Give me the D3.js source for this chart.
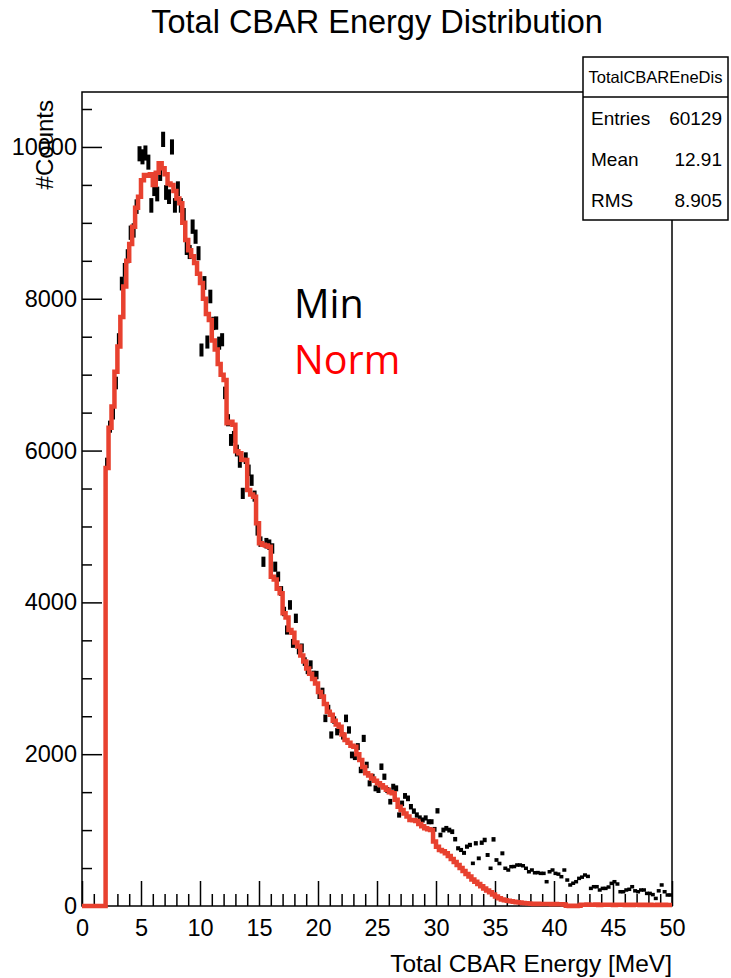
<!DOCTYPE html>
<html><head><meta charset="utf-8">
<script src="https://cdn.jsdelivr.net/npm/d3@7"></script>
<style>body{margin:0;background:#fff}</style>
</head><body>
<svg id="c" width="731" height="978"></svg>
<script>
// ---------------- DATA ----------------
const binStart = 0, binWidth = 0.25;   // 200 bins over 0..50 MeV
const xDomain = [0, 50];
const yDomain = [0, 10724];
// red "Norm" histogram (counts per bin)
const normCounts = [
  0,0,0,0,0,0,0,0,
  5770,6300,6580,7040,7370,7760,8160,8500,8720,8950,9200,9345,9560,9630,9620,9640,
  9500,9660,9785,9720,9640,9520,9500,9420,9320,9257,9000,8775,8640,8560,8470,8330,
  8208,8000,7800,7720,7450,7330,7140,7000,6930,6360,6380,6340,5990,5964,5880,5876,
  5481,5420,5393,5042,4779,4760,4750,4734,4339,4300,4180,4120,3856,3800,3636,3600,
  3470,3420,3300,3220,3130,3060,2990,2930,2820,2760,2660,2560,2520,2440,2390,2362,
  2260,2187,2150,2110,2099,2000,1924,1830,1748,1720,1680,1650,1616,1590,1560,1530,
  1500,1484,1400,1308,1265,1220,1180,1133,1130,1120,1080,1050,1023,1010,1001,850,
  780,738,720,694,660,620,580,540,500,460,420,390,350,320,290,260,
  230,205,180,150,125,101,85,75,70,62,56,50,45,40,36,33,
  30,28,30,26,28,25,27,24,25,22,24,20,2,0,3,0,
  2,18,16,20,15,17,19,14,16,18,15,17,14,16,18,15,
  13,16,14,17,15,13,16,14,15,12,14,16,13,15,14,12
];
// black "Min" points (counts per bin)
const minCounts = [
  0,0,0,0,0,0,0,0,
  5830,6315,6490,6890,7460,8200,8380,8560,8870,8900,9214,9910,9870,9920,9800,9230,
  9450,9380,9650,10100,9400,9345,10000,9230,9450,9230,9100,8670,8616,8950,8818,8600,
  7325,8208,7430,8030,7675,7680,7415,7460,6760,6400,6140,6180,6000,5850,5436,5900,
  5740,5610,5400,4950,4800,4535,4780,4760,4710,4470,4340,4150,3880,3636,3966,3460,
  3790,3373,3400,3220,3110,3180,3045,3043,2780,2823,2472,2600,2253,2450,2296,2330,
  2240,2472,2319,1990,1967,2100,1792,2208,1858,1616,1700,1550,1528,1835,1703,1528,
  1374,1571,1550,1199,1352,1450,1418,1308,1250,1199,1160,1133,1160,1110,1110,1010,
  1254,935,1001,1023,1000,979,880,760,738,700,782,804,562,826,628,834,
  870,672,497,878,606,560,694,497,474,518,520,540,540,530,497,451,
  474,438,440,430,430,320,451,474,430,420,386,474,342,277,300,320,
  364,380,408,390,232,254,254,211,232,232,250,298,320,290,188,188,
  211,220,254,200,188,211,211,166,166,150,100,200,277,188,145,145
];
const xMajorTicks = [0,5,10,15,20,25,30,35,40,45,50];
const yMajorTicks = [0,2000,4000,6000,8000,10000];
const chartTitle = "Total CBAR Energy Distribution";
const xTitle = "Total CBAR Energy [MeV]";
const yTitle = "#Counts";
const statsTitle = "TotalCBAREneDis";
const statsLabels = ["Entries","Mean","RMS"];
const statsValues = ["60129","12.91","8.905"];
const legendLabels = ["Min","Norm"];
const legendColors = ["#000000","#ff0000"];

// ---------------- LAYOUT ----------------
const L = 82, R = 672, T = 92, B = 906;
const FONT = "'Liberation Sans', Arial, Helvetica, sans-serif";
const svg = d3.select('#c');
const x = d3.scaleLinear().domain(xDomain).range([L, R]);
const y = d3.scaleLinear().domain(yDomain).range([B, T]);

// frame
svg.append('rect').attr('x', L).attr('y', T).attr('width', R - L).attr('height', B - T)
  .attr('fill', 'none').attr('stroke', '#000').attr('stroke-width', 1.5);

// y axis major/minor (ticks inward)
const yMinor = d3.range(0, yDomain[1], 500).filter(v => v % 2000 !== 0);
const gyMinor = svg.append('g').attr('transform', `translate(${L},0)`)
  .call(d3.axisLeft(y).tickValues(yMinor).tickSize(-10).tickFormat(''));
const gy = svg.append('g').attr('transform', `translate(${L},0)`)
  .call(d3.axisLeft(y).tickValues(yMajorTicks).tickSize(-20).tickPadding(5).tickFormat(d3.format('d')));
// x axis major/minor
const xMinor = d3.range(0, 51, 1).filter(v => v % 5 !== 0);
const gxMinor = svg.append('g').attr('transform', `translate(0,${B})`)
  .call(d3.axisBottom(x).tickValues(xMinor).tickSize(-12).tickFormat(''));
const gx = svg.append('g').attr('transform', `translate(0,${B})`)
  .call(d3.axisBottom(x).tickValues(xMajorTicks).tickSize(-25).tickPadding(13).tickFormat(d3.format('d')));
[gy, gyMinor, gx, gxMinor].forEach(g => {
  g.select('.domain').remove();
  g.selectAll('line').attr('stroke', '#000').attr('stroke-width', 1.5);
  g.attr('font-family', FONT).attr('font-size', 23.5);
  g.selectAll('text').attr('fill', '#000');
});

// black points (Min)
const pts = minCounts.map((v, i) => ({e: binStart + (i + 0.5) * binWidth, v})).filter(d => d.v > 0);
const errH = d => Math.max(3.5, y(d.v - Math.sqrt(d.v)) - y(d.v + Math.sqrt(d.v)));
svg.append('g').selectAll('rect').data(pts).join('rect')
  .attr('x', d => x(d.e) - 2)
  .attr('width', 4)
  .attr('y', d => y(d.v) - errH(d) / 2)
  .attr('height', errH)
  .attr('fill', '#000');

// red histogram (Norm)
const steps = normCounts.map((v, i) => [binStart + i * binWidth, v]);
steps.push([binStart + normCounts.length * binWidth, normCounts[normCounts.length - 1]]);
svg.append('path').datum(steps)
  .attr('d', d3.line().x(d => x(d[0])).y(d => y(d[1])).curve(d3.curveStepAfter))
  .attr('fill', 'none').attr('stroke', '#e8412f').attr('stroke-width', 4.5)
  .attr('stroke-linejoin', 'miter');

// titles
svg.append('text').attr('x', 377).attr('y', 33).attr('text-anchor', 'middle')
  .attr('font-family', FONT).attr('font-size', 32.5).text(chartTitle);
svg.append('text').attr('x', R).attr('y', 972).attr('text-anchor', 'end')
  .attr('font-family', FONT).attr('font-size', 24.5).text(xTitle);
svg.append('text').attr('transform', `translate(53,100) rotate(-90)`).attr('text-anchor', 'end')
  .attr('font-family', FONT).attr('font-size', 24).text(yTitle);

// legend text
legendLabels.forEach((t, i) => {
  svg.append('text').attr('x', 294).attr('y', 318 + i * 56)
    .attr('font-family', "'Open Sans', 'Noto Sans', sans-serif").attr('font-size', 39.5)
    .attr('fill', legendColors[i]).text(t);
});

// stats box
const sb = {x0: 583, x1: 728, y0: 57, yh: 97, y1: 220};
svg.append('rect').attr('x', sb.x0).attr('y', sb.y0).attr('width', sb.x1 - sb.x0).attr('height', sb.y1 - sb.y0)
  .attr('fill', '#fff').attr('stroke', '#000').attr('stroke-width', 1.5);
svg.append('line').attr('x1', sb.x0).attr('x2', sb.x1).attr('y1', sb.yh).attr('y2', sb.yh)
  .attr('stroke', '#000').attr('stroke-width', 1.5);
svg.append('text').attr('x', (sb.x0 + sb.x1) / 2).attr('y', 83).attr('text-anchor', 'middle')
  .attr('font-family', FONT).attr('font-size', 16.5).text(statsTitle);
statsLabels.forEach((lab, i) => {
  const yy = 125 + i * 41;
  svg.append('text').attr('x', 591).attr('y', yy).attr('font-family', FONT).attr('font-size', 19).text(lab);
  svg.append('text').attr('x', 722).attr('y', yy).attr('text-anchor', 'end')
    .attr('font-family', FONT).attr('font-size', 19).text(statsValues[i]);
});
</script>
</body></html>
